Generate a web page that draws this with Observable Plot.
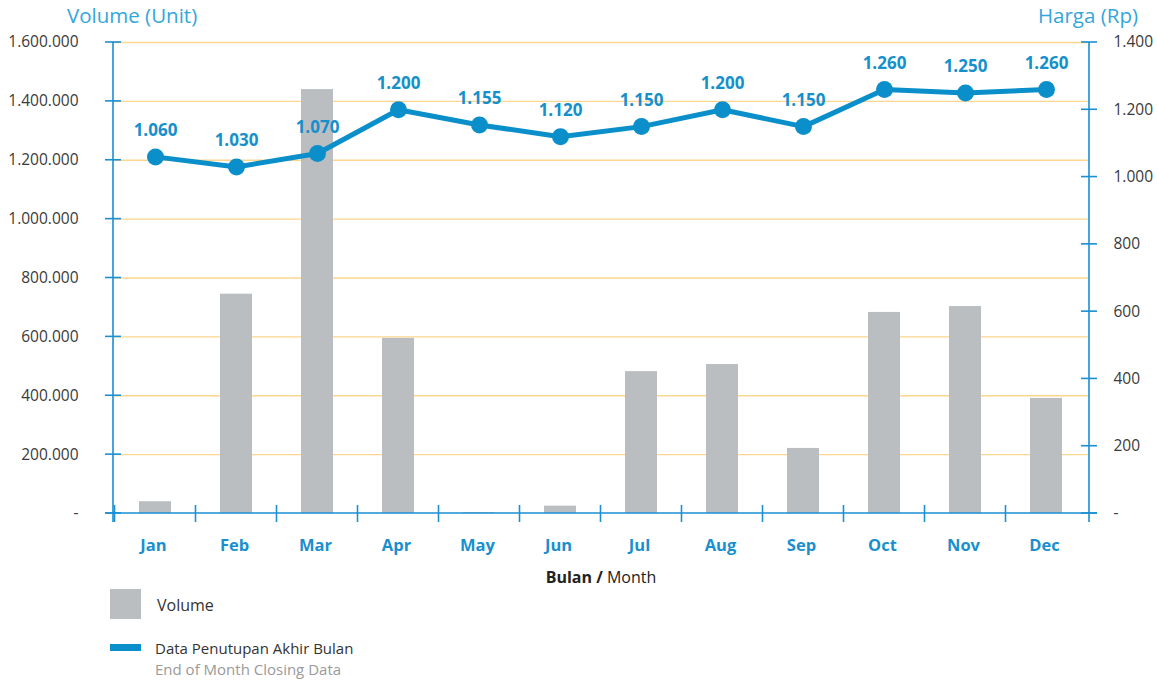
<!DOCTYPE html>
<html><head><meta charset="utf-8">
<script src="https://cdn.jsdelivr.net/npm/d3@7"></script>
<script src="https://cdn.jsdelivr.net/npm/@observablehq/plot@0.6"></script>
<style>
body{margin:0;background:#fff;font-family:"Open Sans",sans-serif;}
#wrap{position:relative;width:1157px;height:681px;overflow:hidden;}
.abs{position:absolute;white-space:nowrap;}
#chart{position:absolute;left:0;top:30px;}
</style></head><body>
<div id="wrap">
  <div class="abs" style="left:67px;top:0;height:30px;line-height:30px;font-size:20.5px;color:#34a6dc;">Volume (Unit)</div>
  <div class="abs" style="right:19px;top:0;height:30px;line-height:30px;font-size:20.5px;color:#34a6dc;">Harga (Rp)</div>
  <div id="chart"></div>
  <div class="abs" style="left:0;width:1202px;top:560px;height:34px;line-height:34px;text-align:center;font-size:16px;color:#222;"><b>Bulan /</b> Month</div>
  <div class="abs" style="left:110px;top:589px;width:31px;height:30px;background:#bbbec1;"></div>
  <div class="abs" style="left:157px;top:594px;line-height:22px;font-size:16px;color:#333;">Volume</div>
  <div class="abs" style="left:110px;top:644px;width:31px;height:7px;background:#0a8fca;"></div>
  <div class="abs" style="left:155px;top:638px;height:21px;line-height:21px;font-size:15px;color:#333;">Data Penutupan Akhir Bulan</div>
  <div class="abs" style="left:155px;top:659px;height:21px;line-height:21px;font-size:15px;color:#9a9a9a;">End of Month Closing Data</div>
</div>
<script>
// ---- data ----
const months = ["Jan","Feb","Mar","Apr","May","Jun","Jul","Aug","Sep","Oct","Nov","Dec"];
const volume = [40000, 745000, 1440000, 595000, 3000, 25000, 482000, 506000, 221000, 683000, 703000, 391000];
const price = [1060, 1030, 1070, 1200, 1155, 1120, 1150, 1200, 1150, 1260, 1250, 1260];
const volumeTicks = [0, 200000, 400000, 600000, 800000, 1000000, 1200000, 1400000, 1600000];
const priceTicks = [0, 200, 400, 600, 800, 1000, 1200, 1400];
const volumeMax = 1600000;
const priceMax = 1400;

// ---- styles ----
const BLUE = "#0a8fca";
const AXIS = "#1a8fd2";
const GRID = "#fcd58e";
const BAR = "#bbbec1";
const k = volumeMax / priceMax;

const loc = d3.formatLocale({decimal: ",", thousands: ".", grouping: [3], currency: ["", ""]});
const f = loc.format(",d");
const fmt = d => d === 0 ? "-" : f(d);

const rows = months.map((m, i) => ({month: m, volume: volume[i], price: price[i], priceScaled: price[i] * k}));

function axisFrame(index, scales, values, dims) {
  const {x, y} = scales;
  const step = x.step(), bw = x.bandwidth();
  const L = dims.marginLeft, R = dims.width - dims.marginRight;
  const y0 = y(0), yTop = y(volumeMax);
  const g = d3.create("svg:g").attr("stroke", AXIS).attr("stroke-width", 1.6).attr("fill", "none");
  const line = (x1, y1, x2, y2) => g.append("line").attr("x1", x1).attr("y1", y1).attr("x2", x2).attr("y2", y2);
  line(L, yTop, L, y0 + 9);
  line(R, yTop, R, y0 + 9);
  line(L - 8, y0, R + 8, y0);
  for (const t of volumeTicks) line(L - 8, y(t), L + 8, y(t));
  for (const t of priceTicks) { const yy = y(t * k); line(R - 8, yy, R + 8, yy); }
  for (const m of months) { const xb = x(m) + bw / 2 - step / 2; line(xb, y0 - 8, xb, y0 + 9); }
  return g.node();
}

const plot = Plot.plot({
  width: 1157,
  height: 530,
  marginTop: 12,
  marginBottom: 47,
  marginLeft: 113,
  marginRight: 68,
  style: {fontFamily: "'Open Sans', sans-serif", fontSize: "15px", background: "#fff"},
  x: {domain: months, paddingInner: 0.6, paddingOuter: 0.3, label: null},
  y: {domain: [0, volumeMax], label: null},
  marks: [
    Plot.gridY(volumeTicks.filter(t => t > 0), {stroke: GRID, strokeOpacity: 1, strokeWidth: 1.4}),
    Plot.barY(rows, {x: "month", y: "volume", fill: BAR}),
    axisFrame,
    Plot.axisY({ticks: volumeTicks, tickFormat: fmt, tickSize: 0, tickPadding: 35, fill: "#3a3a3a", fontSize: 15.5, label: null}),
    Plot.axisY({anchor: "right", ticks: priceTicks.map(t => t * k), tickFormat: d => fmt(Math.round(d / k)), tickSize: 0, tickPadding: 24, fill: "#3a3a3a", fontSize: 15.5, label: null}),
    Plot.axisX({tickSize: 0, tickPadding: 26, dx: -2, fill: "#1a8fcf", fontWeight: "bold", fontSize: 16.5, label: null}),
    Plot.line(rows, {x: "month", y: "priceScaled", stroke: BLUE, strokeWidth: 5}),
    Plot.dot(rows, {x: "month", y: "priceScaled", r: 8.5, fill: BLUE, stroke: "none"}),
    Plot.text(rows, {x: "month", y: "priceScaled", text: d => fmt(d.price), dy: -26, fill: "#1590cc", fontWeight: "bold", fontSize: 17})
  ]
});
document.getElementById("chart").appendChild(plot);
</script>
</body></html>
